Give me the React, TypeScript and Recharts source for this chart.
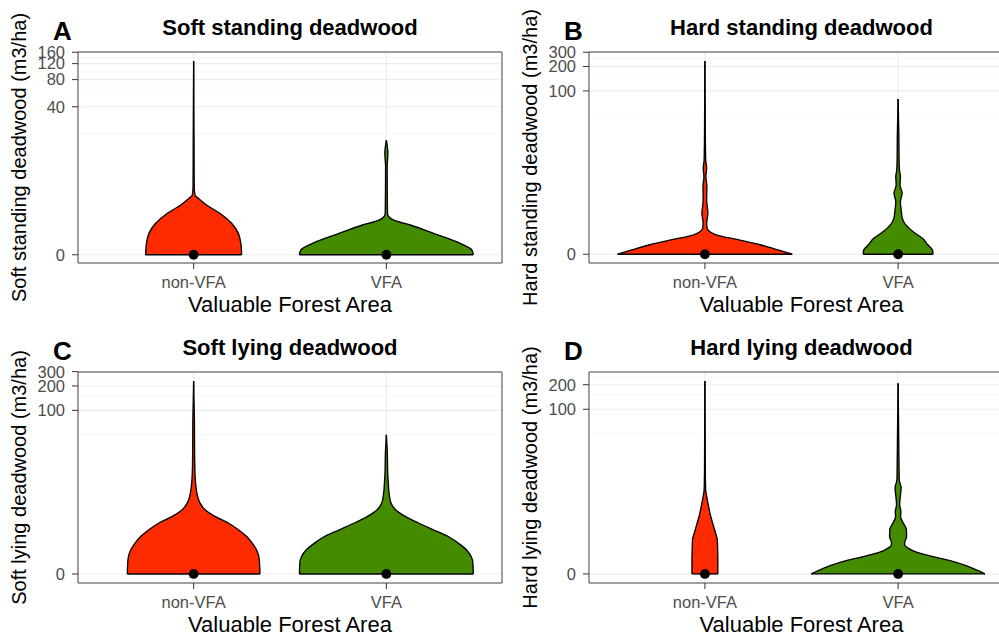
import React from 'react';
import {
    ComposedChart,
    Area,
    Line,
    XAxis,
    YAxis,
    CartesianGrid,
    ReferenceArea,
    Label
} from 'recharts';

// categories on the x axis (positions 1 and 2)
const groups = ['non-VFA', 'VFA'];
const groupFills = ['#ff2b00', '#458b00'];

// A: soft standing deadwood, violin outlines (value in m3/ha, half width in category units)
const aNonVfaLevels = [0, 0.33, 0.71, 1.2, 1.83, 2.48, 3.12, 3.47, 4.5, 20, 128];
const aNonVfaHalf = [0.249, 0.245, 0.232, 0.197, 0.136, 0.067, 0.024, 0.007, 0.003, 0.002, 0];
const aVfaLevels = [0, 0.125, 0.33, 0.71, 1.11, 1.39, 1.64, 1.83, 2.95, 8.1, 11.7, 16.8];
const aVfaHalf = [0.451, 0.444, 0.383, 0.245, 0.124, 0.038, 0.01, 0.006, 0.005, 0.004, 0.008, 0];
const aMedians = [0, 0];
const aTicks = [0, 40, 80, 120, 160];
const aMinor = [20, 60, 100, 140];

// B: hard standing deadwood
const bNonVfaLevels = [0, 0.129, 0.3, 0.5, 0.72, 0.89, 1.08, 1.4, 2.18, 2.84, 3.64, 5.75, 7.95, 10.35, 13.35, 29.5, 234];
const bNonVfaHalf = [0.452, 0.378, 0.29, 0.176, 0.062, 0.026, 0.012, 0.009, 0.0155, 0.012, 0.009, 0.01, 0.005, 0.009, 0.004, 0.002, 0];
const bVfaLevels = [0, 0.129, 0.3, 0.57, 0.89, 1.29, 1.76, 2.33, 3.42, 4.6, 6.08, 7.95, 9.82, 13.35, 26.7, 79.4];
const bVfaHalf = [0.181, 0.178, 0.155, 0.126, 0.078, 0.04, 0.022, 0.017, 0.012, 0.021, 0.01, 0.012, 0.007, 0.005, 0.004, 0];
const bMedians = [0, 0];
const bTicks = [0, 100, 200, 300];
const bMinor = [50, 150, 250];

// C: soft lying deadwood
const cNonVfaLevels = [0, 0.36, 0.64, 0.98, 1.39, 1.88, 2.48, 3.21, 4.07, 5.12, 6.39, 8.8, 11.97, 16.2, 29.2, 76.2, 230];
const cNonVfaHalf = [0.344, 0.342, 0.338, 0.326, 0.304, 0.275, 0.232, 0.18, 0.11, 0.059, 0.033, 0.017, 0.01, 0.007, 0.005, 0.004, 0];
const cVfaLevels = [0, 0.36, 0.64, 0.98, 1.39, 1.88, 2.48, 3.21, 4.07, 5.12, 6.39, 8.8, 11.97, 16.2, 29.2, 49.6];
const cVfaHalf = [0.451, 0.449, 0.44, 0.415, 0.373, 0.321, 0.244, 0.166, 0.098, 0.048, 0.024, 0.014, 0.01, 0.007, 0.005, 0];
const cMedians = [0, 0];
const cTicks = [0, 100, 200, 300];
const cMinor = [50, 150, 250];

// D: hard lying deadwood
const dNonVfaLevels = [0, 0.36, 0.97, 1.61, 2.15, 2.79, 3.57, 4.51, 5.63, 7.77, 9.57, 17.5, 222];
const dNonVfaHalf = [0.067, 0.067, 0.066, 0.064, 0.055, 0.045, 0.035, 0.026, 0.019, 0.009, 0.004, 0.002, 0];
const dVfaLevels = [0, 0.097, 0.261, 0.45, 0.67, 0.87, 1.03, 1.21, 1.4, 1.84, 2.45, 3.2, 3.97, 4.71, 5.94, 10.2, 12.98, 17.5, 208];
const dVfaHalf = [0.45, 0.414, 0.352, 0.269, 0.16, 0.088, 0.057, 0.036, 0.034, 0.044, 0.043, 0.026, 0.013, 0.0145, 0.008, 0.0155, 0.006, 0.005, 0];
const dMedians = [0, 0];
const dTicks = [0, 100, 200];
const dMinor = [50, 150, 250];

const FONT = '"Liberation Sans", Arial, Helvetica, sans-serif';
const CHART_H = 320;
const PLOT_TOP = 52;
const Y_AXIS_W = 78;
const X_AXIS_H = 57;
const RIGHT_PAD = 8;
const OUTLINE = 1.35;

type PanelProps = {
    tag: string;
    title: string;
    yTitle: string;
    levels: number[][];
    halves: number[][];
    medians: number[];
    ticks: number[];
    minor: number[];
    domain: [number, number];
    left: number;
    top: number;
    width: number;
};

const ViolinPanel: React.FC<PanelProps> = ({
    tag, title, yTitle, levels, halves, medians, ticks, minor, domain, left, top, width
}) => {
    const plotW = width - Y_AXIS_W - RIGHT_PAD;
    return (
        <div style={{ position: 'absolute', left, top, width, height: CHART_H }}>
            <ComposedChart
                width={width}
                height={CHART_H}
                layout="vertical"
                margin={{ top: PLOT_TOP, right: RIGHT_PAD, bottom: 0, left: 0 }}
            >
                <CartesianGrid horizontalValues={minor} vertical={false} stroke="#f3f3f3" strokeWidth={0.7} />
                <CartesianGrid stroke="#ebebeb" strokeWidth={1.1} />
                <XAxis
                    type="number"
                    domain={[0.4, 2.6]}
                    allowDataOverflow
                    ticks={[1, 2]}
                    interval={0}
                    tickFormatter={(v: number) => groups[v - 1]}
                    height={X_AXIS_H}
                    axisLine={false}
                    tickLine={{ stroke: '#333333' }}
                    tickSize={6}
                    tickMargin={7}
                    tick={{ fill: '#4d4d4d', fontSize: 16.5 }}
                >
                    <Label value="Valuable Forest Area" position="insideBottom" offset={8} style={{ fontSize: 22, fill: '#000' }} />
                </XAxis>
                <YAxis
                    type="number"
                    dataKey="y"
                    scale="symlog"
                    reversed
                    domain={domain}
                    allowDataOverflow
                    ticks={ticks}
                    interval={0}
                    width={Y_AXIS_W}
                    axisLine={false}
                    tickLine={{ stroke: '#333333' }}
                    tickSize={6}
                    tickMargin={7}
                    tick={{ fill: '#4d4d4d', fontSize: 16.5 }}
                >
                    <Label value={yTitle} position="center" angle={-90} dx={-20} style={{ fontSize: 20, fill: '#000' }} />
                </YAxis>
                {groups.map((g, gi) => (
                    <Area
                        key={'v' + g}
                        data={levels[gi].map((y, i) => ({ y, band: [gi + 1 - halves[gi][i], gi + 1 + halves[gi][i]] }))}
                        dataKey="band"
                        type="monotone"
                        fill={groupFills[gi]}
                        fillOpacity={1}
                        stroke="#000"
                        strokeWidth={OUTLINE}
                        dot={false}
                        activeDot={false}
                        isAnimationActive={false}
                    />
                ))}
                {groups.map((g, gi) => (
                    <Line
                        key={'b' + g}
                        data={[
                            { y: levels[gi][0], x: gi + 1 - halves[gi][0] },
                            { y: levels[gi][0], x: gi + 1 + halves[gi][0] }
                        ]}
                        dataKey="x"
                        type="linear"
                        stroke="#000"
                        strokeWidth={OUTLINE}
                        dot={false}
                        activeDot={false}
                        isAnimationActive={false}
                    />
                ))}
                {groups.map((g, gi) => (
                    <Line
                        key={'m' + g}
                        data={[{ y: medians[gi], x: gi + 1 }]}
                        dataKey="x"
                        stroke="none"
                        dot={{ r: 4.9, fill: '#000', stroke: '#000', strokeWidth: 0 }}
                        activeDot={false}
                        isAnimationActive={false}
                    />
                ))}
                <ReferenceArea
                    x1={0.4}
                    x2={2.6}
                    y1={domain[0]}
                    y2={domain[1]}
                    fill="none"
                    stroke="#4d4d4d"
                    strokeWidth={1}
                />
            </ComposedChart>
            <div style={{
                position: 'absolute', left: Y_AXIS_W, width: plotW, top: 17, textAlign: 'center',
                fontSize: 22, lineHeight: '22px', fontWeight: 'bold', color: '#000', whiteSpace: 'nowrap'
            }}>{title}</div>
            <div style={{
                position: 'absolute', left: 53, top: 18, fontSize: 26, lineHeight: '26px',
                fontWeight: 'bold', color: '#000'
            }}>{tag}</div>
        </div>
    );
};

export default function App() {
    return (
        <div style={{
            position: 'absolute', left: 0, top: 0, width: 999, height: 637,
            overflow: 'hidden', background: '#fff', fontFamily: FONT
        }}>
            <ViolinPanel
                tag="A" title="Soft standing deadwood" yTitle="Soft standing deadwood (m3/ha)"
                levels={[aNonVfaLevels, aVfaLevels]} halves={[aNonVfaHalf, aVfaHalf]} medians={aMedians}
                ticks={aTicks} minor={aMinor} domain={[-0.23, 161]}
                left={0} top={0} width={510}
            />
            <ViolinPanel
                tag="B" title="Hard standing deadwood" yTitle="Hard standing deadwood (m3/ha)"
                levels={[bNonVfaLevels, bVfaLevels]} halves={[bNonVfaHalf, bVfaHalf]} medians={bMedians}
                ticks={bTicks} minor={bMinor} domain={[-0.28, 302]}
                left={511} top={0} width={511}
            />
            <ViolinPanel
                tag="C" title="Soft lying deadwood" yTitle="Soft lying deadwood (m3/ha)"
                levels={[cNonVfaLevels, cVfaLevels]} halves={[cNonVfaHalf, cVfaHalf]} medians={cMedians}
                ticks={cTicks} minor={cMinor} domain={[-0.29, 297]}
                left={0} top={320} width={510}
            />
            <ViolinPanel
                tag="D" title="Hard lying deadwood" yTitle="Hard lying deadwood (m3/ha)"
                levels={[dNonVfaLevels, dVfaLevels]} halves={[dNonVfaHalf, dVfaHalf]} medians={dMedians}
                ticks={dTicks} minor={dMinor} domain={[-0.29, 286]}
                left={511} top={320} width={511}
            />
        </div>
    );
}
